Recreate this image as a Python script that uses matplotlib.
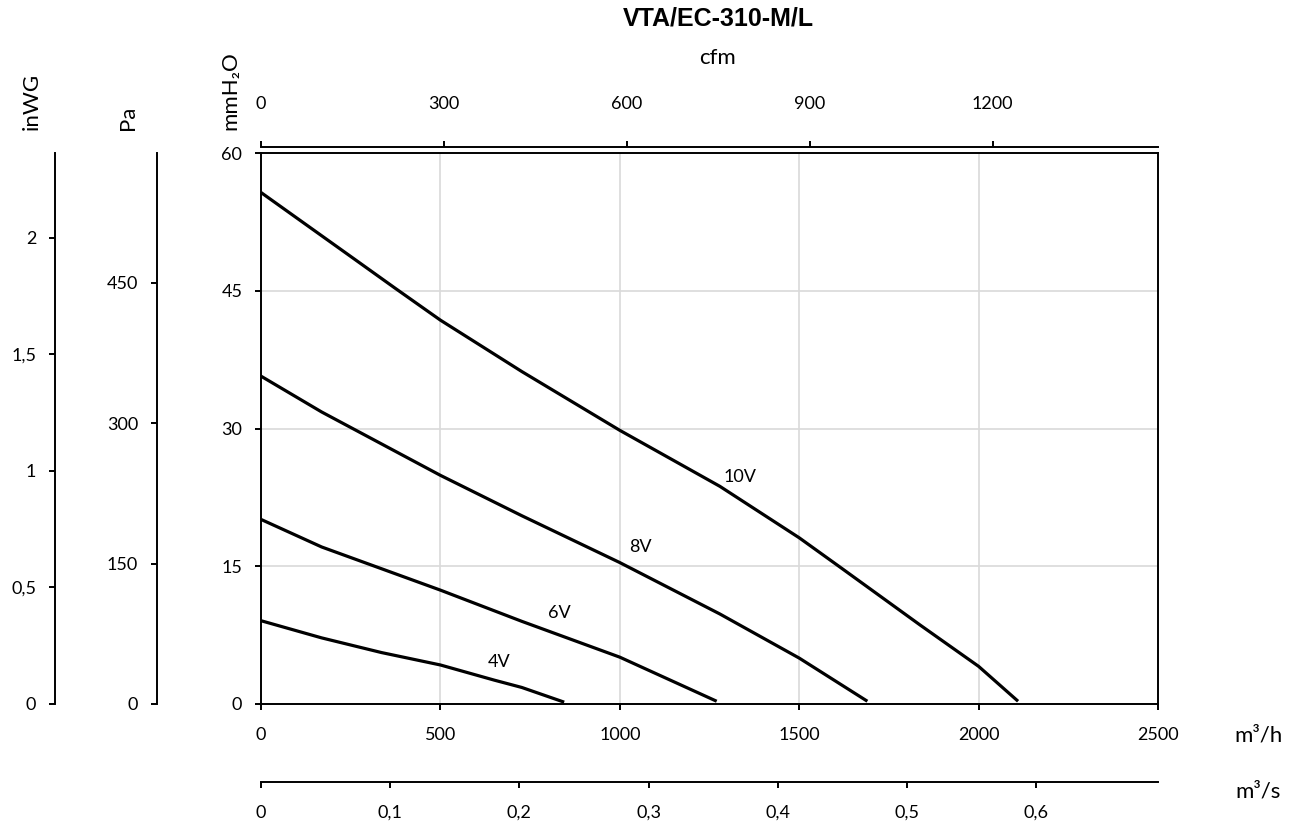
import matplotlib.pyplot as plt
from matplotlib.ticker import FuncFormatter

TITLE = "VTA/EC-310-M/L"

# fan curves: air flow (m³/h) against static pressure (mmH2O)
CURVE_NAMES = ["10V", "8V", "6V", "4V"]
FLOW_10V = [0, 262, 373, 500, 727, 1000, 1279, 1500, 1614, 1837, 2000, 2110]
PRES_10V = [55.7, 48.4, 45.3, 41.8, 36.2, 29.8, 23.7, 18.1, 14.9, 8.6, 4.1, 0.3]
FLOW_8V = [0, 169, 500, 727, 1000, 1279, 1500, 1690]
PRES_8V = [35.7, 31.8, 24.9, 20.5, 15.4, 9.8, 5.0, 0.3]
FLOW_6V = [0, 169, 500, 727, 1000, 1270]
PRES_6V = [20.1, 17.1, 12.4, 9.0, 5.1, 0.3]
FLOW_4V = [0, 169, 336, 500, 650, 727, 845]
PRES_4V = [9.07, 7.2, 5.6, 4.25, 2.6, 1.8, 0.2]

# where each curve name is written (m³/h, mmH2O)
NAME_X = [1335, 1056, 831, 663]
NAME_Y = [24.7, 17.1, 9.95, 4.6]

FLOW_TICKS = [0, 500, 1000, 1500, 2000, 2500]
PRES_TICKS = [0, 15, 30, 45, 60]
CFM_TICKS = [0, 300, 600, 900, 1200]
M3S_TICKS = [0, 0.1, 0.2, 0.3, 0.4, 0.5, 0.6]
PA_TICKS = [0, 150, 300, 450]
INWG_TICKS = [0, 0.5, 1, 1.5, 2]

FLOW_MAX = 2500
PRES_MAX = 60
M3H_PER_CFM = 1.699
PA_PER_MMH2O = 9.807
PA_PER_INWG = 249.09

plt.rcParams["font.family"] = ["Lato", "DejaVu Sans"]

W_PX, H_PX = 1296, 825
fig = plt.figure(figsize=(W_PX / 100, H_PX / 100), dpi=100)


def fx(px):
    return px / W_PX


def fy(py):
    return 1 - py / H_PX


LEFT, RIGHT, TOP, BOTTOM = 261, 1158, 153, 704
L, B = fx(LEFT), fy(BOTTOM)
W, H = fx(RIGHT) - fx(LEFT), fy(TOP) - fy(BOTTOM)
SPINE = 1.4
TICK_LEN = 4.5
TICK_FS = 13
UNIT_FS = 16
comma = FuncFormatter(lambda v, _: f"{v:g}".replace(".", ","))

ax = fig.add_axes([L, B, W, H])
ax.set_xlim(0, FLOW_MAX)
ax.set_ylim(0, PRES_MAX)
ax.set_xticks(FLOW_TICKS)
ax.set_yticks(PRES_TICKS)
ax.grid(color="#d9d9d9", lw=1.2)
ax.set_axisbelow(True)
for s in ax.spines.values():
    s.set_linewidth(SPINE)
ax.tick_params(axis="x", direction="out", length=TICK_LEN, width=SPINE, labelsize=TICK_FS, pad=12)
ax.tick_params(axis="y", direction="out", length=TICK_LEN, width=SPINE, labelsize=TICK_FS, pad=9)

curves = [(FLOW_10V, PRES_10V), (FLOW_8V, PRES_8V), (FLOW_6V, PRES_6V), (FLOW_4V, PRES_4V)]
for (xs, ys), name, tx, ty in zip(curves, CURVE_NAMES, NAME_X, NAME_Y):
    ax.plot(xs, ys, color="black", lw=2.3, solid_capstyle="butt",
            solid_joinstyle="round", zorder=3)
    ax.text(tx, ty, name, fontsize=13, ha="center", va="center")


def bare_axes(rect):
    a = fig.add_axes(rect, facecolor="none")
    for s in a.spines.values():
        s.set_visible(False)
        s.set_linewidth(SPINE)
    return a


# cfm scale above the chart
cax = bare_axes([L, fy(147), W, 1e-4])
cax.set_xlim(0, FLOW_MAX / M3H_PER_CFM)
cax.spines["top"].set_visible(True)
cax.xaxis.set_ticks_position("top")
cax.set_xticks(CFM_TICKS)
cax.set_yticks([])
cax.tick_params(axis="x", direction="out", length=TICK_LEN, width=SPINE, labelsize=TICK_FS, pad=21)

# m³/s scale below the chart
sax = bare_axes([L, fy(782), W, 1e-4])
sax.set_xlim(0, FLOW_MAX / 3600)
sax.spines["bottom"].set_visible(True)
sax.set_xticks(M3S_TICKS)
sax.xaxis.set_major_formatter(comma)
sax.set_yticks([])
sax.tick_params(axis="x", direction="out", length=TICK_LEN, width=SPINE, labelsize=TICK_FS, pad=12)

# Pa scale
pax = bare_axes([fx(157), B, 1e-4, H])
pax.set_ylim(0, PRES_MAX * PA_PER_MMH2O)
pax.spines["left"].set_visible(True)
pax.set_yticks(PA_TICKS)
pax.set_xticks([])
pax.tick_params(axis="y", direction="out", length=TICK_LEN, width=SPINE, labelsize=TICK_FS, pad=9)

# inWG scale
iax = bare_axes([fx(55), B, 1e-4, H])
iax.set_ylim(0, PRES_MAX * PA_PER_MMH2O / PA_PER_INWG)
iax.spines["left"].set_visible(True)
iax.set_yticks(INWG_TICKS)
iax.yaxis.set_major_formatter(comma)
iax.set_xticks([])
iax.tick_params(axis="y", direction="out", length=TICK_LEN, width=SPINE, labelsize=TICK_FS, pad=9)

fig.text(fx(718), fy(19), TITLE, ha="center", va="center", fontsize=18,
         fontweight="bold", family="Liberation Sans")
fig.text(fx(718), fy(58), "cfm", ha="center", va="center", fontsize=UNIT_FS)
fig.text(fx(32), fy(130), "inWG", rotation=90, ha="center", va="bottom", fontsize=UNIT_FS)
fig.text(fx(128), fy(130), "Pa", rotation=90, ha="center", va="bottom", fontsize=UNIT_FS)
fig.text(fx(230), fy(130), "mmH₂O", rotation=90, ha="center", va="bottom", fontsize=UNIT_FS)
fig.text(fx(1258), fy(735), "m³/h", ha="center", va="center", fontsize=UNIT_FS)
fig.text(fx(1258), fy(792), "m³/s", ha="center", va="center", fontsize=UNIT_FS)

fig.savefig("out.png", dpi=100, facecolor="white")
